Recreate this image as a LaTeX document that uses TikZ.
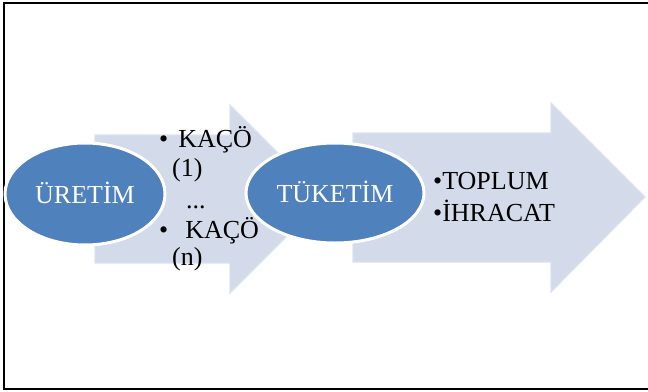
\documentclass[tikz,border=0pt]{standalone}
\usepackage{fontspec}
\setmainfont{Liberation Serif}
\definecolor{ellblue}{RGB}{79,129,189}
\definecolor{arrowfill}{RGB}{211,218,233}
\definecolor{arrowedge}{RGB}{220,226,238}
\begin{document}
\begin{tikzpicture}[x=1pt,y=-1pt,
  bigarrow/.style={fill=arrowfill,draw=arrowedge,line width=1.2pt,line join=miter},
  lbl/.style={inner sep=0pt,anchor=base west,font=\fontsize{26}{30}\selectfont},
  ovaltext/.style={inner sep=0pt,anchor=base,text=white,font=\fontsize{26}{30}\selectfont},
  frame/.style={line width=2pt,line cap=butt}]
\useasboundingbox (0,0) rectangle (648,391);
% frame (no right side)
\draw[frame] (648,3) -- (4,3) -- (4,389) -- (648,389);
% arrows
\draw[bigarrow] (95,135) -- (230,135) -- (230,105) -- (324,199) -- (230,293) -- (230,263) -- (95,263) -- cycle;
\draw[bigarrow] (353,133) -- (551,133) -- (551,103) -- (645,197) -- (551,292) -- (551,262) -- (353,262) -- cycle;
% ellipses
\fill[ellblue,draw=white,line width=3pt] (85,194) ellipse [x radius=80,y radius=51];
\fill[ellblue,draw=white,line width=3pt] (335,193) ellipse [x radius=89,y radius=50];
\node[ovaltext] (uretim) at (85,203) {ÜRETİM};
\node[ovaltext] (tuketim) at (335,202) {TÜKETİM};
% list texts
\node[lbl] (k1) at (159,147) {•\hspace{10pt}KAÇÖ};
\node[lbl] (k1n) at (172,176) {(1)};
\node[lbl] (dots) at (186,208) {...};
\node[lbl] (k2) at (159,238) {•\hspace{17pt}KAÇÖ};
\node[lbl] (k2n) at (172,265) {(n)};
\node[lbl] (toplum) at (433,189) {•TOPLUM};
\node[lbl] (ihracat) at (433,221) {•İHRACAT};
\end{tikzpicture}
\end{document}
